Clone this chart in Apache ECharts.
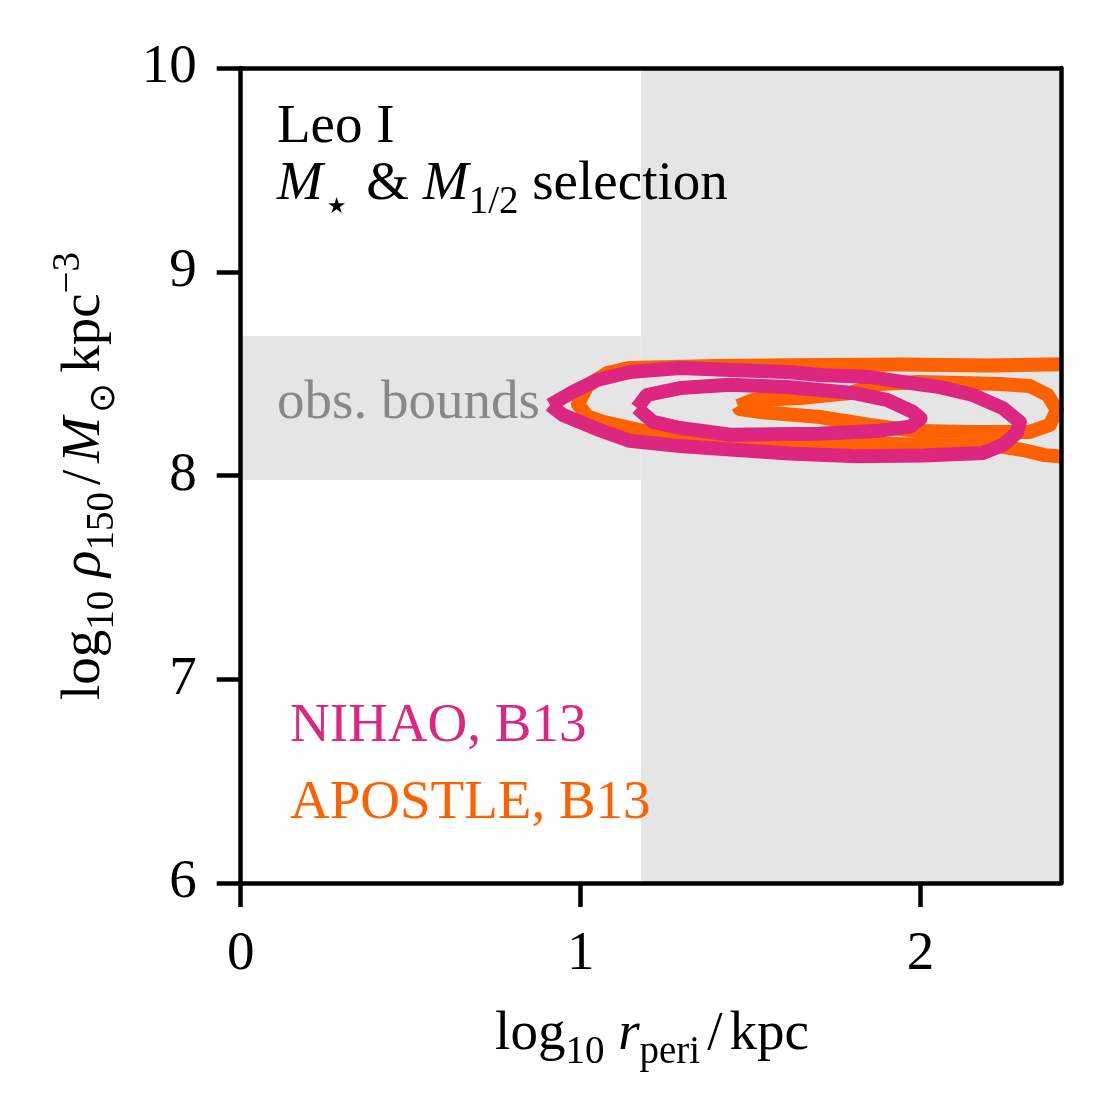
<!DOCTYPE html>
<html>
<head>
<meta charset="utf-8">
<script src="https://cdn.jsdelivr.net/npm/echarts@6/dist/echarts.min.js"></script>
<style>
html,body{margin:0;padding:0;background:#fff;}
#chart{width:1111px;height:1118px;}
</style>
</head>
<body>
<div id="chart"></div>
<script>
// ---- axis setup ----
const xRange = [0, 2.413];
const yRange = [6, 10];
const xTicks = [0, 1, 2];
const yTicks = [6, 7, 8, 9, 10];

// ---- observational bounds ----
const periBound = 1.177;          // log10 r_peri lower bound
const rhoBounds = [7.978, 8.685];  // log10 rho150 range

// ---- APOSTLE, B13 contours (x = log10 r_peri, y = log10 rho150) ----
const apostleOuter = [
  [2.413, 8.546], [2.20, 8.540], [1.95, 8.545], [1.70, 8.542],
  [1.40, 8.537], [1.145, 8.528], [1.078, 8.503], [1.02, 8.44], [0.992, 8.35],
  [1.02, 8.29], [1.066, 8.263], [1.195, 8.214], [1.389, 8.184], [1.733, 8.165],
  [2.027, 8.150], [2.224, 8.145], [2.301, 8.125], [2.365, 8.10], [2.413, 8.093]
];
const apostleInner = [
  [1.463, 8.341], [1.507, 8.371], [1.645, 8.380], [1.792, 8.405], [1.880, 8.449],
  [1.998, 8.459], [2.233, 8.449], [2.321, 8.439], [2.374, 8.395], [2.401, 8.321],
  [2.380, 8.248], [2.321, 8.214], [2.145, 8.214], [1.989, 8.218], [1.851, 8.248],
  [1.704, 8.287], [1.527, 8.312], [1.468, 8.326], [1.463, 8.341]
];

// ---- NIHAO, B13 contours ----
const nihaoOuter = [
  [0.910, 8.346], [0.977, 8.410], [1.048, 8.469], [1.145, 8.508], [1.292, 8.528],
  [1.440, 8.518], [1.607, 8.508], [1.704, 8.493], [1.851, 8.483], [1.948, 8.459],
  [2.057, 8.434], [2.154, 8.395], [2.242, 8.331], [2.292, 8.262], [2.283, 8.209],
  [2.242, 8.150], [2.183, 8.110], [2.007, 8.098], [1.813, 8.095], [1.615, 8.108],
  [1.440, 8.128], [1.292, 8.145], [1.145, 8.170], [1.048, 8.228], [0.948, 8.297],
  [0.910, 8.346]
];
const nihaoInner = [
  [1.166, 8.331], [1.195, 8.395], [1.292, 8.429], [1.440, 8.445], [1.607, 8.434],
  [1.801, 8.405], [1.901, 8.371], [1.977, 8.312], [2.000, 8.280], [1.970, 8.240],
  [1.880, 8.220], [1.700, 8.205], [1.440, 8.200], [1.292, 8.233], [1.213, 8.263],
  [1.166, 8.331]
];

const PINK = '#DC267F';
const ORANGE = '#FE6100';
const FONT = 'Liberation Serif';
const FS = 55;
const SUB = 39;

const rich = {
  n:  {fontFamily: FONT, fontSize: FS, color: '#000', verticalAlign: 'bottom', padding: [0, 0, 10, 0]},
  sl: {fontFamily: FONT, fontSize: FS, color: '#000', verticalAlign: 'bottom', padding: [0, 7, 10, 7]},
  i:  {fontFamily: FONT, fontSize: FS, fontStyle: 'italic', color: '#000', verticalAlign: 'bottom', padding: [0, 0, 10, 0]},
  s:  {fontFamily: FONT, fontSize: SUB, color: '#000', verticalAlign: 'bottom', padding: [0, 0, 0, 0]},
  st: {fontFamily: 'DejaVu Sans', fontSize: 22, color: '#000', verticalAlign: 'bottom', padding: [0, 6, 4, 4]},
  od: {fontFamily: 'DejaVu Sans', fontSize: 36, color: '#000', verticalAlign: 'bottom', padding: [0, 10, 0, 4]},
  sup:{fontFamily: FONT, fontSize: SUB, color: '#000', verticalAlign: 'bottom', padding: [0, 0, 34, 0]}
};

function contour(name, data, color) {
  return {
    type: 'line', name: name, data: data, showSymbol: false, symbol: 'none',
    clip: true, silent: true, z: 3,
    lineStyle: {color: color, width: 14, join: 'round', cap: 'butt'}
  };
}

const axisCommon = {
  type: 'value',
  axisLine: {show: true, onZero: false, lineStyle: {color: '#000', width: 4.5}},
  axisTick: {show: true, inside: false, length: 24, lineStyle: {color: '#000', width: 4.5}},
  splitLine: {show: false},
  z: 10
};

const chart = echarts.init(document.getElementById('chart'), null, {renderer: 'canvas'});
chart.setOption({
  animation: false,
  backgroundColor: '#fff',
  grid: {left: 240.7, right: 50, top: 68, bottom: 235, containLabel: false},
  xAxis: [
    Object.assign({}, axisCommon, {
      min: xRange[0], max: xRange[1], interval: 1, position: 'bottom',
      axisTick: {show: true, inside: false, length: 24, customValues: xTicks,
        lineStyle: {color: '#000', width: 4.5}},
      axisLabel: {fontFamily: FONT, fontSize: FS, color: '#000', margin: 44,
        customValues: xTicks, formatter: v => String(v)}
    }),
    Object.assign({}, axisCommon, {
      min: xRange[0], max: xRange[1], interval: 1, position: 'top',
      axisTick: {show: false}, axisLabel: {show: false}
    })
  ],
  yAxis: [
    Object.assign({}, axisCommon, {
      min: yRange[0], max: yRange[1], interval: 1, position: 'left',
      axisTick: {show: true, inside: false, length: 24, customValues: yTicks,
        lineStyle: {color: '#000', width: 4.5}},
      axisLabel: {fontFamily: FONT, fontSize: FS, color: '#000', margin: 44,
        customValues: yTicks, formatter: v => String(v)}
    }),
    Object.assign({}, axisCommon, {
      min: yRange[0], max: yRange[1], interval: 1, position: 'right',
      axisTick: {show: false}, axisLabel: {show: false}
    })
  ],
  series: [
    {
      type: 'line', data: [], silent: true, z: 1,
      markArea: {
        silent: true,
        itemStyle: {color: '#e5e5e5'},
        data: [
          [{coord: [periBound, yRange[0]]}, {coord: [xRange[1], yRange[1]]}],
          [{coord: [xRange[0], rhoBounds[0]]}, {coord: [periBound, rhoBounds[1]]}]
        ]
      }
    },
    contour('APOSTLE outer', apostleOuter, ORANGE),
    contour('APOSTLE inner', apostleInner, ORANGE),
    contour('NIHAO outer', nihaoOuter, PINK),
    contour('NIHAO inner', nihaoInner, PINK)
  ],
  graphic: [
    {type: 'text', x: 277, y: 128, z: 20,
      style: {text: 'Leo I', fontFamily: FONT, fontSize: FS, fill: '#000', align: 'left', verticalAlign: 'middle'}},
    {type: 'text', x: 277, y: 190, z: 20,
      style: {text: '{i|M}{st|★}{n| & }{i|M}{s|1/2}{n| selection}', rich: rich, align: 'left', verticalAlign: 'middle'}},
    {type: 'text', x: 277, y: 404, z: 20,
      style: {text: 'obs. bounds', fontFamily: FONT, fontSize: FS, fill: '#888888', align: 'left', verticalAlign: 'middle'}},
    {type: 'text', x: 290, y: 727, z: 20,
      style: {text: 'NIHAO, B13', fontFamily: FONT, fontSize: FS, fill: PINK, align: 'left', verticalAlign: 'middle'}},
    {type: 'text', x: 290, y: 804, z: 20,
      style: {text: 'APOSTLE, B13', fontFamily: FONT, fontSize: FS, fill: ORANGE, align: 'left', verticalAlign: 'middle'}},
    {type: 'text', x: 652, y: 1040, z: 20,
      style: {text: '{n|log}{s|10}{i| r}{s|peri}{sl|/}{n|kpc}', rich: rich, align: 'center', verticalAlign: 'middle'}},
    {type: 'text', x: 86, y: 476, rotation: Math.PI / 2, z: 20,
      style: {text: '{n|log}{s|10}{i| ρ}{s|150}{sl|/}{i|M}{od|⊙}{n|kpc}{sup|−3}', rich: rich, align: 'center', verticalAlign: 'middle'}}
  ]
});
</script>
</body>
</html>
